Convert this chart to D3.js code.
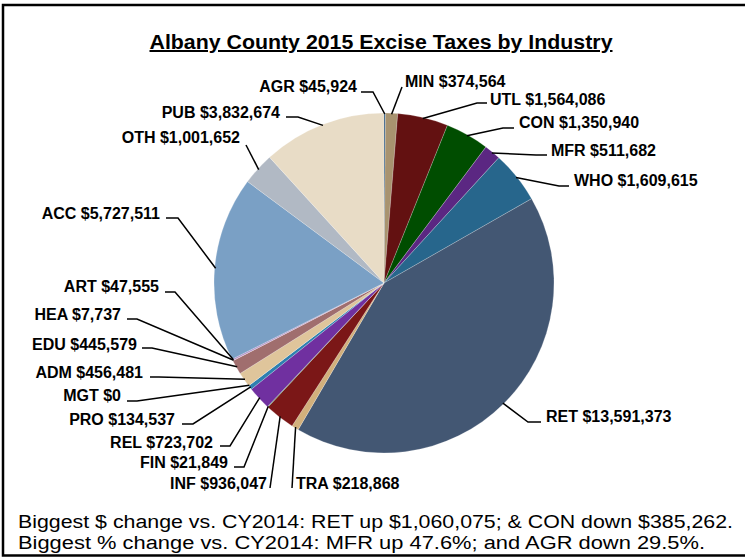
<!DOCTYPE html>
<html>
<head>
<meta charset="utf-8">
<script src="https://cdn.jsdelivr.net/npm/d3@7"></script>
<style>
  body { margin: 0; background: #fff; }
  svg { display: block; font-family: "Liberation Sans", Arial, sans-serif; }
  .lbl { font-weight: bold; font-size: 16px; fill: #000; }
  .leader { fill: none; stroke: #000; stroke-width: 1.5; }
</style>
</head>
<body>
<div id="chart"></div>
<script>
// data
var codes = ["AGR","MIN","UTL","CON","MFR","WHO","RET","TRA","INF","FIN",
             "REL","PRO","MGT","ADM","EDU","HEA","ART","ACC","OTH","PUB"];
var taxes = [45924, 374564, 1564086, 1350940, 511682, 1609615, 13591373, 218868, 936047, 21849,
             723702, 134537, 0, 456481, 445579, 7737, 47555, 5727511, 1001652, 3832674];
var sliceColors = ["#1f4e79","#a8936f","#631111","#004d00","#5b2782","#27668c","#435773","#d2b07c","#7b1717","#3c7a3c",
                   "#7030a0","#2e80b0","#888888","#dfc59b","#a06e6e","#c99090","#b08cc8","#7aa0c5","#b1b9c4","#e8dcc6"];
var footnotes = [
  "Biggest $ change vs. CY2014: RET up $1,060,075; & CON down $385,262.",
  "Biggest % change vs. CY2014: MFR up 47.6%; and AGR down 29.5%."
];

// label layout: text anchor point, elbow and stub end of leader line
var labelLayout = {
  AGR: {x: 357, y: 86, a: "end",   elbow: [373, 92],  end: [361, 92]},
  MIN: {x: 405, y: 81, a: "start", elbow: [402, 87],  end: [402, 87]},
  UTL: {x: 490, y: 99, a: "start", elbow: [477, 103], end: [487, 103]},
  CON: {x: 519, y: 122, a: "start", elbow: [503, 128], end: [514, 128]},
  MFR: {x: 551, y: 150, a: "start", elbow: [536, 155], end: [547, 155]},
  WHO: {x: 574, y: 180, a: "start", elbow: [559, 186], end: [569, 186]},
  RET: {x: 546, y: 416, a: "start", elbow: [528, 422], end: [541, 422]},
  TRA: {x: 296, y: 483, a: "start", elbow: [292, 488], end: [292, 488]},
  INF: {x: 267, y: 483, a: "end",   elbow: [270, 488], end: [270, 488]},
  FIN: {x: 228, y: 462, a: "end",   elbow: [244, 467], end: [234, 467]},
  REL: {x: 213, y: 442, a: "end",   elbow: [230, 446], end: [220, 446]},
  PRO: {x: 175, y: 419, a: "end",   elbow: [193, 424], end: [182, 424]},
  MGT: {x: 121, y: 395, a: "end",   elbow: [137, 401], end: [127, 401]},
  ADM: {x: 143, y: 372, a: "end",   elbow: [159, 377], end: [150, 377]},
  EDU: {x: 137, y: 344, a: "end",   elbow: [152, 348], end: [142, 348]},
  HEA: {x: 121, y: 314, a: "end",   elbow: [137, 319], end: [127, 319]},
  ART: {x: 159, y: 286, a: "end",   elbow: [175, 292], end: [165, 292]},
  ACC: {x: 160, y: 213, a: "end",   elbow: [178, 218], end: [166, 218]},
  OTH: {x: 240, y: 137, a: "end",   elbow: [246, 145], end: [246, 145]},
  PUB: {x: 280, y: 112, a: "end",   elbow: [298, 117], end: [286, 117]}
};

var width = 745, height = 558;
var cx = 384, cy = 283, radius = 170;

var svg = d3.select("#chart")
  .append("svg")
  .attr("width", width)
  .attr("height", height);

// frame (right edge runs off the picture)
svg.append("rect")
  .attr("x", 3).attr("y", 5)
  .attr("width", 770).attr("height", 550.5)
  .attr("fill", "none")
  .attr("stroke", "#000")
  .attr("stroke-width", 2.5);

// title
svg.append("text")
  .attr("x", 381).attr("y", 49)
  .attr("text-anchor", "middle")
  .style("font-weight", "bold")
  .style("font-size", "20px")
  .style("text-decoration", "underline")
  .attr("textLength", 463)
  .attr("lengthAdjust", "spacingAndGlyphs")
  .text("Albany County 2015 Excise Taxes by Industry");

var color = d3.scaleOrdinal().domain(codes).range(sliceColors);

var rows = codes.map(function(c, i) { return {code: c, value: taxes[i]}; });

var pie = d3.pie()
  .sort(null)
  .value(function(d) { return d.value; });

var arc = d3.arc().innerRadius(0).outerRadius(radius);
var rim = d3.arc().innerRadius(radius - 1).outerRadius(radius - 1);

var arcs = pie(rows);

var g = svg.append("g")
  .attr("transform", "translate(" + cx + "," + cy + ")");

g.selectAll("path.slice")
  .data(arcs)
  .enter().append("path")
  .attr("class", "slice")
  .attr("d", arc)
  .attr("fill", function(d) { return color(d.data.code); })
  .attr("stroke", "#ffffff")
  .attr("stroke-opacity", 0.35)
  .attr("stroke-width", 0.6);

// leader lines
var line = d3.line();
svg.selectAll("path.leader")
  .data(arcs)
  .enter().append("path")
  .attr("class", "leader")
  .attr("d", function(d) {
    var p = rim.centroid(d);
    var L = labelLayout[d.data.code];
    return line([[p[0] + cx, p[1] + cy], L.elbow, L.end]);
  });

// labels
svg.selectAll("text.lbl")
  .data(arcs)
  .enter().append("text")
  .attr("class", "lbl")
  .attr("x", function(d) { return labelLayout[d.data.code].x; })
  .attr("y", function(d) { return labelLayout[d.data.code].y; })
  .attr("dy", "0.35em")
  .attr("text-anchor", function(d) { return labelLayout[d.data.code].a; })
  .text(function(d) { return d.data.code + " " + d3.format("$,")(d.data.value); });

// footnotes
svg.selectAll("text.note")
  .data(footnotes)
  .enter().append("text")
  .attr("class", "note")
  .attr("x", 18)
  .attr("y", function(d, i) { return 528 + i * 21; })
  .style("font-size", "18px")
  .attr("textLength", function(d, i) { return i === 0 ? 715 : 687; })
  .attr("lengthAdjust", "spacingAndGlyphs")
  .text(function(d) { return d; });
</script>
</body>
</html>
